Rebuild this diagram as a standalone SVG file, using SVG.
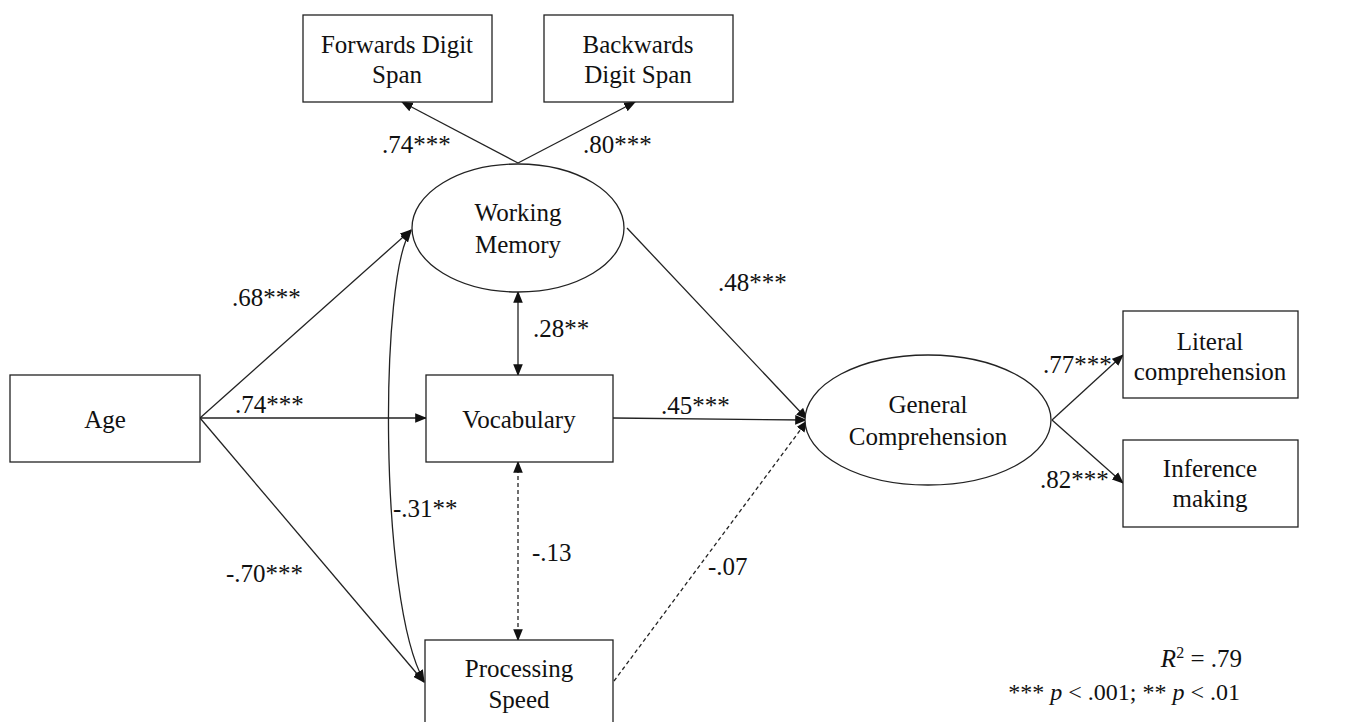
<svg xmlns="http://www.w3.org/2000/svg" width="1346" height="722" viewBox="0 0 1346 722">
<defs>
<marker id="ah" markerUnits="userSpaceOnUse" markerWidth="12" markerHeight="10" refX="9" refY="4" orient="auto-start-reverse" viewBox="0 0 10 8">
<path d="M0,0 L10,4 L0,8 Z" fill="#111"/>
</marker>
</defs>
<style>
text{font-family:"Liberation Serif","Times New Roman",serif;font-size:25px;fill:#111}
.c{text-anchor:middle}
.box{fill:#fff;stroke:#222;stroke-width:1.3}
.ln{fill:none;stroke:#222;stroke-width:1.3}
.d{stroke-dasharray:4,3}
</style>
<rect width="1346" height="722" fill="#fff"/>
<g id="connectors">
<line class="ln" x1="518" y1="163" x2="402" y2="102" marker-end="url(#ah)"/>
<line class="ln" x1="518" y1="163" x2="635" y2="102" marker-end="url(#ah)"/>
<line class="ln" x1="200" y1="418" x2="411" y2="230" marker-end="url(#ah)"/>
<line class="ln" x1="200" y1="418" x2="426" y2="418" marker-end="url(#ah)"/>
<line class="ln" x1="200" y1="418" x2="424" y2="682" marker-end="url(#ah)"/>
<path class="ln" d="M411,231 C380,270 378,600 424,681" marker-start="url(#ah)" marker-end="url(#ah)"/>
<line class="ln" x1="518" y1="292" x2="518" y2="375" marker-start="url(#ah)" marker-end="url(#ah)"/>
<line class="ln d" x1="518" y1="462" x2="518" y2="640" marker-start="url(#ah)" marker-end="url(#ah)"/>
<line class="ln" x1="627" y1="228" x2="807" y2="419" marker-end="url(#ah)"/>
<line class="ln" x1="613" y1="418" x2="806" y2="420" marker-end="url(#ah)"/>
<line class="ln d" x1="614" y1="681" x2="807" y2="421" marker-end="url(#ah)"/>
<line class="ln" x1="1052" y1="420" x2="1123" y2="355" marker-end="url(#ah)"/>
<line class="ln" x1="1052" y1="420" x2="1123" y2="483" marker-end="url(#ah)"/>
</g>
<g id="forwards">
<rect class="box" x="303" y="15" width="189" height="87"/>
<text class="c" x="397" y="53">Forwards Digit</text>
<text class="c" x="397" y="83">Span</text>
</g>
<g id="backwards">
<rect class="box" x="544" y="15" width="189" height="87"/>
<text class="c" x="638" y="53">Backwards</text>
<text class="c" x="638" y="83">Digit Span</text>
</g>
<g id="working-memory">
<ellipse class="box" cx="518" cy="228" rx="106" ry="64"/>
<text class="c" x="518" y="221">Working</text>
<text class="c" x="518" y="253">Memory</text>
</g>
<g id="age">
<rect class="box" x="10" y="375" width="190" height="87"/>
<text class="c" x="105" y="428">Age</text>
</g>
<g id="vocabulary">
<rect class="box" x="426" y="375" width="187" height="87"/>
<text class="c" x="519" y="428">Vocabulary</text>
</g>
<g id="processing-speed">
<rect class="box" x="425" y="640" width="188" height="90"/>
<text class="c" x="519" y="677">Processing</text>
<text class="c" x="519" y="708">Speed</text>
</g>
<g id="general-comprehension">
<ellipse class="box" cx="928" cy="420" rx="123" ry="65"/>
<text class="c" x="928" y="413">General</text>
<text class="c" x="928" y="445">Comprehension</text>
</g>
<g id="literal">
<rect class="box" x="1123" y="311" width="175" height="87"/>
<text class="c" x="1210" y="350">Literal</text>
<text class="c" x="1210" y="380">comprehension</text>
</g>
<g id="inference">
<rect class="box" x="1123" y="440" width="175" height="87"/>
<text class="c" x="1210" y="477">Inference</text>
<text class="c" x="1210" y="507">making</text>
</g>
<g id="labels">
<text x="382" y="153">.74***</text>
<text x="583" y="153">.80***</text>
<text x="232" y="306">.68***</text>
<text x="235" y="413">.74***</text>
<text x="226" y="582">-.70***</text>
<text x="533" y="337">.28**</text>
<text x="393" y="517">-.31**</text>
<text x="532" y="561">-.13</text>
<text x="708" y="575">-.07</text>
<text x="718" y="291">.48***</text>
<text x="661" y="414">.45***</text>
<text x="1043" y="373">.77***</text>
<text x="1040" y="488">.82***</text>
<text x="1242" y="667" text-anchor="end" style="font-size:25px"><tspan font-style="italic">R</tspan><tspan font-size="16" dy="-9">2</tspan><tspan dy="9"> = .79</tspan></text>
<text x="1240" y="700" text-anchor="end" style="font-size:24px">*** <tspan font-style="italic">p</tspan> &lt; .001; ** <tspan font-style="italic">p</tspan> &lt; .01</text>
</g>
</svg>
